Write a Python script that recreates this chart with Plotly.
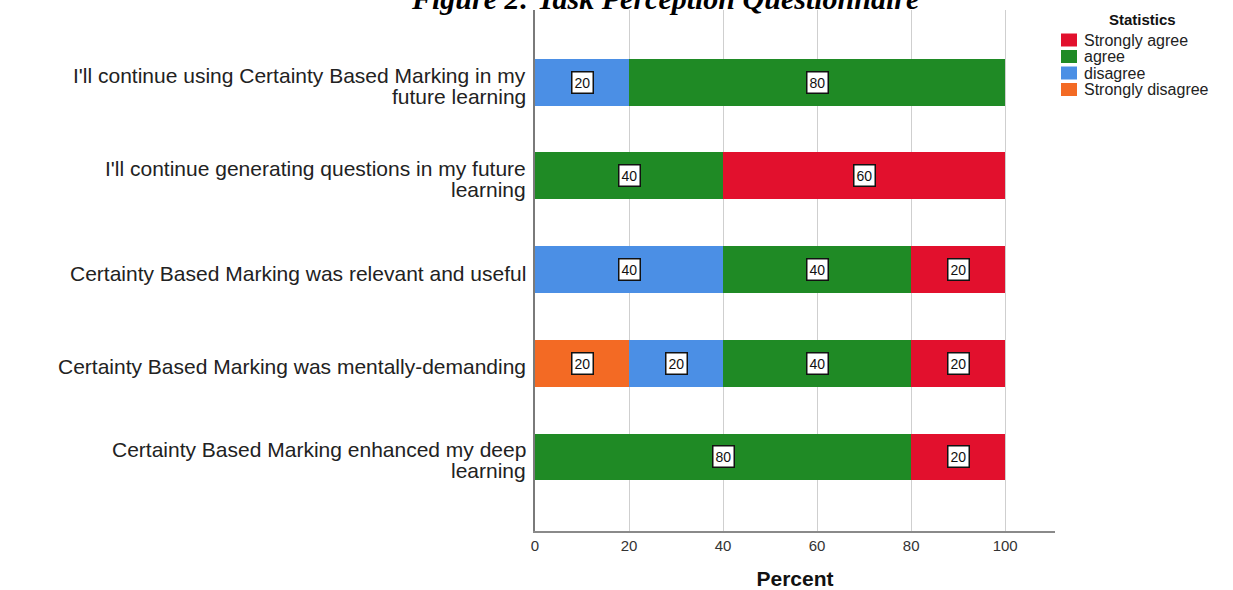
import plotly.graph_objects as go

# ---------------- data ----------------
categories = [
    "I'll continue using Certainty Based Marking in my<br>future learning",
    "I'll continue generating questions in my future<br>learning",
    "Certainty Based Marking was relevant and useful",
    "Certainty Based Marking was mentally-demanding",
    "Certainty Based Marking enhanced my deep<br>learning",
]
strongly_disagree = [0, 0, 0, 20, 0]
disagree = [20, 0, 40, 20, 0]
agree = [80, 40, 40, 40, 80]
strongly_agree = [0, 60, 20, 20, 20]

series_names = ["Strongly disagree", "disagree", "agree", "Strongly agree"]
series_colors = ["#f36a24", "#4b8fe5", "#1f8a25", "#e2102d"]
x_ticks = [0, 20, 40, 60, 80, 100]

title_text = "Figure 2: Task Perception Questionnaire"
legend_title = "Statistics"
x_title = "Percent"

series_values = [strongly_disagree, disagree, agree, strongly_agree]

# ---------------- layout geometry (page pixels) ----------------
W, H = 1233, 590
PL, PR, PT, PB = 535, 1055, 10, 531   # plot area in page pixels
ML, MR, MT, MB = PL, W - PR, PT, H - PB
PW = PR - PL
PH = PB - PT


def px_x(px):
    return (px - PL) / PW


def px_y(py):
    return (PB - py) / PH


fig = go.Figure()
for name, color, vals in zip(series_names, series_colors, series_values):
    fig.add_trace(go.Bar(
        y=categories, x=vals, name=name, orientation="h",
        marker=dict(color=color, line=dict(width=0)),
        width=0.5, showlegend=False, hoverinfo="x+name",
    ))

annotations = []
# value boxes at segment centres
for ci, cat in enumerate(categories):
    cum = 0
    for vals in series_values:
        v = vals[ci]
        if v > 0:
            annotations.append(dict(
                x=cum + v / 2, y=cat, xref="x", yref="y", text=str(v),
                showarrow=False, font=dict(family="Liberation Sans", size=14, color="#111"),
                bgcolor="white", bordercolor="#111", borderwidth=1.5, borderpad=2,
            ))
        cum += v

# category labels (tight line spacing like the original)
for cat in categories:
    lines = cat.split("<br>")
    n = len(lines)
    for j, line in enumerate(lines):
        annotations.append(dict(
            x=0, xref="paper", xanchor="right", xshift=-7,
            y=cat, yref="y", yanchor="middle", yshift=((n - 1) / 2 - j) * 21 - 3.5,
            text=line, showarrow=False,
            font=dict(family="Liberation Sans", size=21, color="#222"),
        ))

# title (cropped at top of image)
annotations.append(dict(
    x=px_x(665), xref="paper", xanchor="center",
    y=px_y(-2), yref="paper", yanchor="middle",
    text="<b><i>" + title_text + "</i></b>", showarrow=False,
    font=dict(family="Liberation Serif", size=30, color="#000"),
))

# custom legend
shapes = []
annotations.append(dict(
    x=px_x(1142), xref="paper", xanchor="center",
    y=px_y(20), yref="paper", yanchor="middle",
    text="<b>" + legend_title + "</b>", showarrow=False,
    font=dict(family="Liberation Sans", size=15, color="#111"),
))
legend_order = list(range(len(series_names)))[::-1]
for k, si in enumerate(legend_order):
    cy = 40 + 16.5 * k
    shapes.append(dict(
        type="rect", xref="paper", yref="paper",
        x0=px_x(1061), x1=px_x(1077), y0=px_y(cy + 6.5), y1=px_y(cy - 6.5),
        fillcolor=series_colors[si], line=dict(width=0),
    ))
    annotations.append(dict(
        x=px_x(1082), xref="paper", xanchor="left",
        y=px_y(cy), yref="paper", yanchor="middle",
        text=series_names[si], showarrow=False,
        font=dict(family="Liberation Sans", size=16, color="#222"),
    ))

fig.update_layout(
    width=W, height=H,
    margin=dict(l=ML, r=MR, t=MT, b=MB, pad=0, autoexpand=False),
    barmode="stack",
    plot_bgcolor="white", paper_bgcolor="white",
    annotations=annotations, shapes=shapes,
    showlegend=False,
    xaxis=dict(
        range=[0, 110.6], tickvals=x_ticks, ticktext=[str(t) for t in x_ticks],
        showgrid=True, gridcolor="#cfcfcf", gridwidth=1,
        showline=True, linecolor="#8a8a8a", linewidth=1.5,
        zeroline=False, ticks="", ticklabelstandoff=0, automargin=False,
        tickfont=dict(family="Liberation Sans", size=15, color="#333"),
        title=dict(text="<b>" + x_title + "</b>", standoff=22,
                   font=dict(family="Liberation Sans", size=21, color="#111")),
    ),
    yaxis=dict(
        categoryorder="array", categoryarray=categories,
        range=[4.79, -0.77], showticklabels=False, ticks="", automargin=False,
        showgrid=False, zeroline=False,
        showline=True, linecolor="#7a7a7a", linewidth=1.5,
    ),
)

fig.write_html(
    "out.html",
    config={"displayModeBar": False},
    post_script="document.body.style.margin='0';document.body.style.overflow='hidden';",
)
